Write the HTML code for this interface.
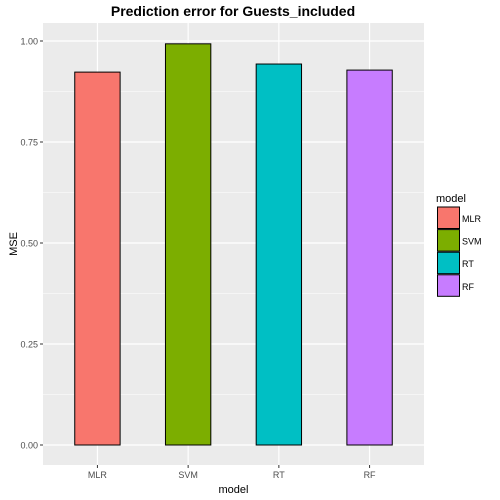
<!DOCTYPE html>
<html><head><meta charset="utf-8"><style>body{margin:0;background:#fff}svg{display:block;font-family:"Liberation Sans",sans-serif}</style></head>
<body>
<svg id="c" width="500" height="500">
<text x="233" y="16" text-anchor="middle" font-size="14" font-weight="bold" fill="#000">Prediction error for Guests_included</text>
</svg>
<script>
const categories=["MLR","SVM","RT","RF"];
const values=[0.923,0.993,0.943,0.928];
const colors=["#F8766D","#7CAE00","#00BFC4","#C77CFF"];
const yTicks=[0,0.25,0.5,0.75,1.0];
const yTickLabels=["0.00","0.25","0.50","0.75","1.00"];
const NS="http://www.w3.org/2000/svg";
const svg=document.getElementById('c');
const L=43,R=424,T=23,B=465;
const y=v=>445-v*404;
const step=(R-L)/(categories.length+0.2);
const x=i=>L+step*(0.6+i);
function mk(t,a,p){const e=document.createElementNS(NS,t);for(const k in a)e.setAttribute(k,a[k]);(p||svg).appendChild(e);return e;}
const bg=mk('rect',{x:L,y:T,width:R-L,height:B-T,fill:'#EBEBEB'});


for(let i=0;i<yTicks.length-1;i++){const m=(yTicks[i]+yTicks[i+1])/2;const g=mk('line',{x1:L,x2:R,y1:y(m),y2:y(m),stroke:'#fff','stroke-width':0.6});

}
const mm=yTicks[yTicks.length-1]+0.125;
if(y(mm)>T){const g=mk('line',{x1:L,x2:R,y1:y(mm),y2:y(mm),stroke:'#fff','stroke-width':0.6});}
yTicks.forEach((v,i)=>{
const g=mk('line',{x1:L,x2:R,y1:y(v),y2:y(v),stroke:'#fff','stroke-width':1.2});


mk('line',{x1:L-3,x2:L,y1:y(v),y2:y(v),stroke:'#333'});
const t=mk('text',{x:L-5,y:y(v)+3.5,'text-anchor':'end','font-size':9,fill:'#4D4D4D'});t.textContent=yTickLabels[i];


});
categories.forEach((c,i)=>{
const g=mk('line',{x1:x(i),x2:x(i),y1:T,y2:B,stroke:'#fff','stroke-width':1.2});


});
categories.forEach((c,i)=>{
const w=step*0.5;
const b=mk('rect',{x:x(i)-w/2,y:y(values[i]),width:w,height:y(0)-y(values[i]),fill:colors[i],stroke:'#000','stroke-width':1});


mk('line',{x1:x(i),x2:x(i),y1:B,y2:B+3,stroke:'#333'});
const t=mk('text',{x:x(i),y:B+13,'text-anchor':'middle','font-size':9,fill:'#4D4D4D'});t.textContent=c;


});
const xt=mk('text',{x:(L+R)/2,y:493,'text-anchor':'middle','font-size':11,fill:'#000'});xt.textContent='model';


const yt=mk('text',{x:17,y:(T+B)/2,'text-anchor':'middle','font-size':11,fill:'#000',transform:`rotate(-90 17 ${(T+B)/2})`});yt.textContent='MSE';


const lt=mk('text',{x:436,y:202,'font-size':11,fill:'#000'});lt.textContent='model';


categories.forEach((c,i)=>{
const yy=207+i*22.6;
const k=mk('rect',{x:437.5,y:yy,width:22,height:21.5,fill:colors[i],stroke:'#000','stroke-width':1});


const t=mk('text',{x:462,y:yy+15,'font-size':9,fill:'#000'});t.textContent=c;


});
</script>
</body></html>
